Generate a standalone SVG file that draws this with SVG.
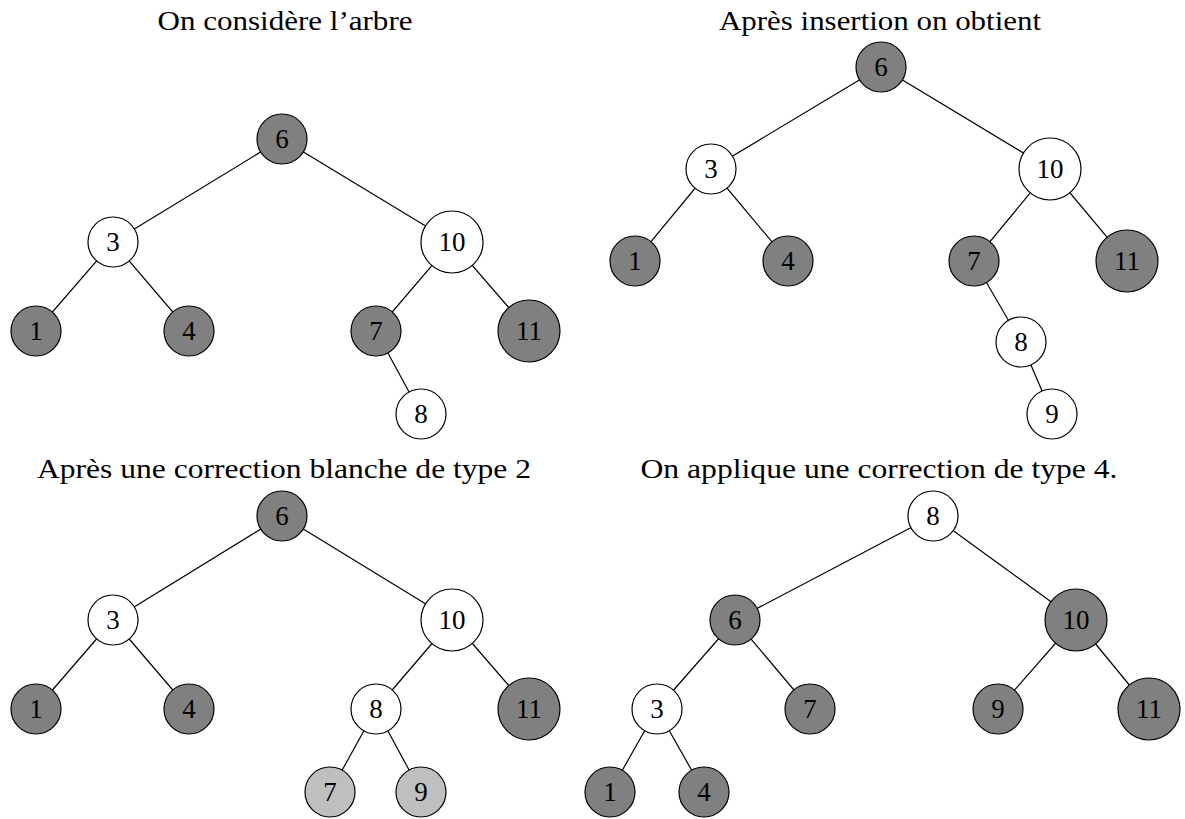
<svg xmlns="http://www.w3.org/2000/svg" width="1185" height="819" viewBox="0 0 1185 819">
  <style>
    text { font-family: "Liberation Serif", "DejaVu Serif", serif; font-size: 27px; fill: #000; text-anchor: middle; }
    text.title { font-size: 28px; }
    .edge { stroke: #000; stroke-width: 1.2; fill: none; }
    circle { stroke: #000; stroke-width: 1.2; }
    .b circle { fill: #808080; }
    .w circle { fill: #ffffff; }
    .l circle { fill: #bfbfbf; }
  </style>

  <!-- titles -->
  <text class="title" x="285" y="30" textLength="255" lengthAdjust="spacingAndGlyphs">On considère l’arbre</text>
  <text class="title" x="880" y="30" textLength="322" lengthAdjust="spacingAndGlyphs">Après insertion on obtient</text>
  <text class="title" x="284" y="478" textLength="494" lengthAdjust="spacingAndGlyphs">Après une correction blanche de type 2</text>
  <text class="title" x="879" y="478" textLength="477" lengthAdjust="spacingAndGlyphs">On applique une correction de type 4.</text>

  <!-- connectors -->
  <g id="edges">
    <!-- tree 1 -->
    <line class="edge" x1="282" y1="139" x2="113" y2="242"/>
    <line class="edge" x1="282" y1="139" x2="452" y2="242"/>
    <line class="edge" x1="113" y1="242" x2="36" y2="331"/>
    <line class="edge" x1="113" y1="242" x2="189" y2="331"/>
    <line class="edge" x1="452" y1="242" x2="376" y2="331"/>
    <line class="edge" x1="452" y1="242" x2="529" y2="331"/>
    <line class="edge" x1="376" y1="331" x2="421" y2="414"/>
    <!-- tree 2 -->
    <line class="edge" x1="881" y1="67" x2="711" y2="169"/>
    <line class="edge" x1="881" y1="67" x2="1050" y2="169"/>
    <line class="edge" x1="711" y1="169" x2="635" y2="261"/>
    <line class="edge" x1="711" y1="169" x2="788" y2="261"/>
    <line class="edge" x1="1050" y1="169" x2="974" y2="261"/>
    <line class="edge" x1="1050" y1="169" x2="1127" y2="261"/>
    <line class="edge" x1="974" y1="261" x2="1021" y2="342"/>
    <line class="edge" x1="1021" y1="342" x2="1052" y2="414"/>
    <!-- tree 3 -->
    <line class="edge" x1="282" y1="516" x2="113" y2="620"/>
    <line class="edge" x1="282" y1="516" x2="452" y2="620"/>
    <line class="edge" x1="113" y1="620" x2="36" y2="709"/>
    <line class="edge" x1="113" y1="620" x2="189" y2="709"/>
    <line class="edge" x1="452" y1="620" x2="376" y2="709"/>
    <line class="edge" x1="452" y1="620" x2="529" y2="709"/>
    <line class="edge" x1="376" y1="709" x2="330" y2="792"/>
    <line class="edge" x1="376" y1="709" x2="421" y2="792"/>
    <!-- tree 4 -->
    <line class="edge" x1="933" y1="516" x2="735" y2="620"/>
    <line class="edge" x1="933" y1="516" x2="1076" y2="620"/>
    <line class="edge" x1="735" y1="620" x2="657" y2="709"/>
    <line class="edge" x1="735" y1="620" x2="810" y2="709"/>
    <line class="edge" x1="1076" y1="620" x2="998" y2="709"/>
    <line class="edge" x1="1076" y1="620" x2="1149" y2="709"/>
    <line class="edge" x1="657" y1="709" x2="610" y2="792"/>
    <line class="edge" x1="657" y1="709" x2="704" y2="792"/>
  </g>

  <!-- tree 1 -->
  <g id="t1-6" class="b"><circle cx="282" cy="139" r="25"/><text x="282" y="148">6</text></g>
  <g id="t1-3" class="w"><circle cx="113" cy="242" r="25"/><text x="113" y="251">3</text></g>
  <g id="t1-10" class="w"><circle cx="452" cy="242" r="31"/><text x="452" y="251">10</text></g>
  <g id="t1-1" class="b"><circle cx="36" cy="331" r="25"/><text x="36" y="340">1</text></g>
  <g id="t1-4" class="b"><circle cx="189" cy="331" r="25"/><text x="189" y="340">4</text></g>
  <g id="t1-7" class="b"><circle cx="376" cy="331" r="25"/><text x="376" y="340">7</text></g>
  <g id="t1-11" class="b"><circle cx="529" cy="331" r="31"/><text x="529" y="340">11</text></g>
  <g id="t1-8" class="w"><circle cx="421" cy="414" r="25"/><text x="421" y="423">8</text></g>

  <!-- tree 2 -->
  <g id="t2-6" class="b"><circle cx="881" cy="67" r="25"/><text x="881" y="76">6</text></g>
  <g id="t2-3" class="w"><circle cx="711" cy="169" r="25"/><text x="711" y="178">3</text></g>
  <g id="t2-10" class="w"><circle cx="1050" cy="169" r="31"/><text x="1050" y="178">10</text></g>
  <g id="t2-1" class="b"><circle cx="635" cy="261" r="25"/><text x="635" y="270">1</text></g>
  <g id="t2-4" class="b"><circle cx="788" cy="261" r="25"/><text x="788" y="270">4</text></g>
  <g id="t2-7" class="b"><circle cx="974" cy="261" r="25"/><text x="974" y="270">7</text></g>
  <g id="t2-11" class="b"><circle cx="1127" cy="261" r="31"/><text x="1127" y="270">11</text></g>
  <g id="t2-8" class="w"><circle cx="1021" cy="342" r="25"/><text x="1021" y="351">8</text></g>
  <g id="t2-9" class="w"><circle cx="1052" cy="414" r="25"/><text x="1052" y="423">9</text></g>

  <!-- tree 3 -->
  <g id="t3-6" class="b"><circle cx="282" cy="516" r="25"/><text x="282" y="525">6</text></g>
  <g id="t3-3" class="w"><circle cx="113" cy="620" r="25"/><text x="113" y="629">3</text></g>
  <g id="t3-10" class="w"><circle cx="452" cy="620" r="31"/><text x="452" y="629">10</text></g>
  <g id="t3-1" class="b"><circle cx="36" cy="709" r="25"/><text x="36" y="718">1</text></g>
  <g id="t3-4" class="b"><circle cx="189" cy="709" r="25"/><text x="189" y="718">4</text></g>
  <g id="t3-8" class="w"><circle cx="376" cy="709" r="25"/><text x="376" y="718">8</text></g>
  <g id="t3-11" class="b"><circle cx="529" cy="709" r="31"/><text x="529" y="718">11</text></g>
  <g id="t3-7" class="l"><circle cx="330" cy="792" r="25"/><text x="330" y="801">7</text></g>
  <g id="t3-9" class="l"><circle cx="421" cy="792" r="25"/><text x="421" y="801">9</text></g>

  <!-- tree 4 -->
  <g id="t4-8" class="w"><circle cx="933" cy="516" r="25"/><text x="933" y="525">8</text></g>
  <g id="t4-6" class="b"><circle cx="735" cy="620" r="25"/><text x="735" y="629">6</text></g>
  <g id="t4-10" class="b"><circle cx="1076" cy="620" r="31"/><text x="1076" y="629">10</text></g>
  <g id="t4-3" class="w"><circle cx="657" cy="709" r="25"/><text x="657" y="718">3</text></g>
  <g id="t4-7" class="b"><circle cx="810" cy="709" r="25"/><text x="810" y="718">7</text></g>
  <g id="t4-9" class="b"><circle cx="998" cy="709" r="25"/><text x="998" y="718">9</text></g>
  <g id="t4-11" class="b"><circle cx="1149" cy="709" r="31"/><text x="1149" y="718">11</text></g>
  <g id="t4-1" class="b"><circle cx="610" cy="792" r="25"/><text x="610" y="801">1</text></g>
  <g id="t4-4" class="b"><circle cx="704" cy="792" r="25"/><text x="704" y="801">4</text></g>
</svg>
